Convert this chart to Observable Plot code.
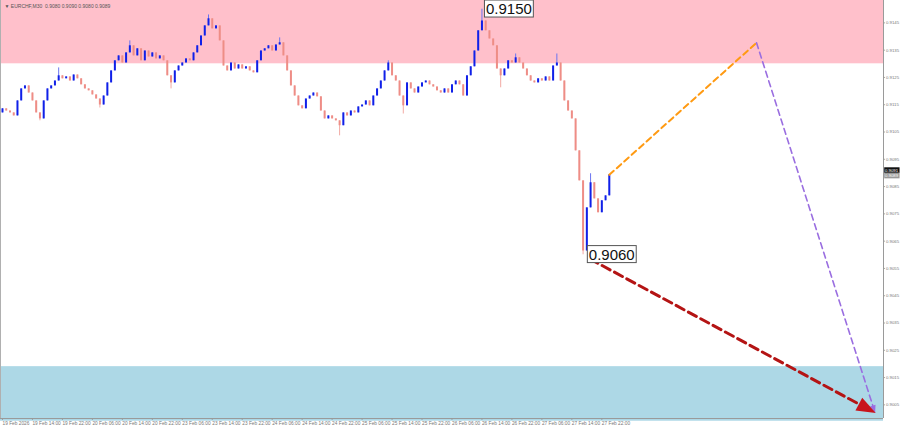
<!DOCTYPE html>
<html><head><meta charset="utf-8">
<script src="https://cdn.jsdelivr.net/npm/d3@7"></script>
<script src="https://cdn.jsdelivr.net/npm/@observablehq/plot@0.6"></script>
<style>html,body{margin:0;padding:0;background:#fff;}#chart{width:900px;height:428px;overflow:hidden;}</style>
</head><body><div id="chart"></div>
<script>
// ---------- data ----------
const symbolLabel = "\u25BC EURCHF,M30  0.9080 0.9090 0.9080 0.9089";
const firstOpen = 0.91120;
const closes = [
 0.91135,0.91127,0.91120,0.91109,0.91164,0.91208,0.91219,0.91193,0.91164,0.91120,
 0.91098,0.91164,0.91208,0.91219,0.91237,0.91256,0.91245,0.91252,0.91237,0.91259,
 0.91245,0.91223,0.91208,0.91201,0.91186,0.91171,0.91149,0.91182,0.91230,0.91274,
 0.91311,0.91329,0.91303,0.91340,0.91366,0.91329,0.91355,0.91311,0.91347,0.91325,
 0.91340,0.91318,0.91329,0.91311,0.91256,0.91230,0.91274,0.91292,0.91303,0.91318,
 0.91311,0.91340,0.91366,0.91402,0.91439,0.91465,0.91428,0.91439,0.91384,0.91292,
 0.91274,0.91303,0.91281,0.91296,0.91281,0.91289,0.91274,0.91267,0.91311,0.91347,
 0.91355,0.91366,0.91347,0.91369,0.91377,0.91329,0.91274,0.91219,0.91182,0.91146,
 0.91135,0.91171,0.91182,0.91193,0.91179,0.91127,0.91098,0.91109,0.91098,0.91091,
 0.91073,0.91120,0.91109,0.91127,0.91120,0.91142,0.91149,0.91164,0.91146,0.91182,
 0.91208,0.91237,0.91274,0.91303,0.91256,0.91237,0.91182,0.91146,0.91230,0.91208,
 0.91193,0.91215,0.91230,0.91237,0.91223,0.91215,0.91201,0.91193,0.91208,0.91193,
 0.91223,0.91237,0.91223,0.91182,0.91256,0.91289,0.91347,0.91421,0.91457,0.91421,
 0.91391,0.91366,0.91281,0.91256,0.91281,0.91311,0.91303,0.91322,0.91303,0.91281,
 0.91256,0.91237,0.91230,0.91245,0.91237,0.91252,0.91237,0.91292,0.91303,0.91237,
 0.91164,0.91127,0.91098,0.90981,0.90871,0.90614,0.90772,0.90864,0.90805,0.90754,
 0.90798,0.90816,0.90893
];
const highWicks = [[15,0.91285],[34,0.91384],[55,0.91479],[74,0.91395],[103,0.91311],[128,0.91500],[137,0.91336],[148,0.91336],[157,0.90897]];
const lowWicks  = [[10,0.91091],[26,0.91138],[45,0.91208],[90,0.91036],[107,0.91116],[133,0.91212],[155,0.90600]];
const timeTickIndex = [0,8,16,24,32,40,48,56,64,72,80,88,96,104,112,120,128,136,144,152,160];
const timeLabels = ["19 Feb 2026","19 Feb 14:00","19 Feb 22:00","20 Feb 06:00","20 Feb 14:00","20 Feb 22:00",
 "23 Feb 06:00","23 Feb 14:00","23 Feb 22:00","24 Feb 06:00","24 Feb 14:00","24 Feb 22:00",
 "25 Feb 06:00","25 Feb 14:00","25 Feb 22:00","26 Feb 06:00","26 Feb 14:00","26 Feb 22:00",
 "27 Feb 06:00","27 Feb 14:00","27 Feb 22:00"];
const priceTicks = [0.9145,0.9135,0.9125,0.9115,0.9105,0.9095,0.9085,0.9075,0.9065,0.9055,0.9045,0.9035,0.9025,0.9015,0.9005];
const resistanceZone = [0.9130, 0.91540];
const supportZone = [0.8999, 0.9019];
const peakLabel = {i:128, p:0.9150, text:"0.9150"};
const troughLabel = {i:156, p:0.9060, text:"0.9060"};
const orangePath = [{i:162, p:0.90893},{i:201.3, p:0.91377}];
const purplePath = [{i:201.3, p:0.91377},{i:232.6, p:0.90036}];
const redPath = [{i:156.8, p:0.90585},{i:230.5, p:0.90039}];
const bidLabel = {p:0.9091, text:"0.9091"};
const askLabel = {p:0.9089, text:"0.9089"};
const xDomain = [-0.53, 235.2];
const yDomain = [0.9000, 0.91532];

// ---------- build ----------
const hi = new Map(highWicks), lo = new Map(lowWicks);
const candles = closes.map((c, i) => {
  const o = i === 0 ? firstOpen : closes[i - 1];
  return {i, open: o, close: c, high: hi.get(i) ?? Math.max(o, c), low: lo.get(i) ?? Math.min(o, c), up: c >= o};
});
const xTicks = timeTickIndex.map((x, k) => ({x, label: timeLabels[k]}));
const UP = "#1020e8", DOWN = "#ee8d86";

// narrow arrowhead symbol pointing "up" (rotated afterwards)
const arrowHead = {
  draw(ctx, size) {
    const r = Math.sqrt(size / Math.PI);
    ctx.moveTo(0, -1.4 * r);
    ctx.lineTo(0.9 * r, 1.0 * r);
    ctx.lineTo(-0.9 * r, 1.0 * r);
    ctx.closePath();
  }
};

const chart = Plot.plot({
  width: 900, height: 428,
  marginLeft: 0, marginRight: 17, marginTop: 0, marginBottom: 10,
  x: {domain: xDomain, axis: null},
  y: {domain: yDomain, axis: null},
  style: {background: "#fff", fontFamily: "'Liberation Sans', Arial, sans-serif"},
  marks: [
    Plot.rect([resistanceZone], {x1: xDomain[0], x2: xDomain[1], y1: d => d[0], y2: d => d[1], fill: "#ffc0cb"}),
    Plot.rect([supportZone], {x1: xDomain[0], x2: xDomain[1], y1: d => d[0], y2: d => d[1], fill: "#add8e6"}),
    Plot.ruleX([xDomain[1]], {stroke: "#9a9a9a", strokeWidth: 1}),
    Plot.ruleX([xDomain[0]], {stroke: "#b0b0b0", strokeWidth: 1}),
    Plot.ruleY([yDomain[0]], {stroke: "#9a9a9a", strokeWidth: 1}),
    // price axis
    Plot.ruleY(priceTicks, {x1: xDomain[1], x2: xDomain[1] + 0.5, stroke: "#9a9a9a"}),
    Plot.text(priceTicks, {x: xDomain[1], y: d => d, text: d => d.toFixed(4), dx: 2.5, textAnchor: "start", fontSize: 4.3, fill: "#777"}),
    // time axis
    Plot.ruleX(xTicks, {x: "x", y1: yDomain[0], y2: yDomain[0] - 0.00007, stroke: "#9a9a9a"}),
    Plot.text(xTicks, {x: "x", y: yDomain[0], text: "label", dy: 5, textAnchor: "start", fontSize: 4.8, fill: "#777"}),
    Plot.text([symbolLabel], {frameAnchor: "top-left", dx: 4, dy: 4, textAnchor: "start", fontSize: 5, fill: "#555"}),
    // candles
    Plot.ruleX(candles, {x: "i", y1: "low", y2: "high", stroke: d => d.up ? "#6a74f0" : "#f2aaa4", strokeWidth: 1}),
    Plot.ruleX(candles, {x: "i", y1: "open", y2: "close", stroke: d => d.up ? UP : DOWN, strokeWidth: 2}),
    // projections
    Plot.line(orangePath, {x: "i", y: "p", stroke: "#ff9a12", strokeWidth: 2, strokeDasharray: "6,4"}),
    Plot.line(purplePath, {x: "i", y: "p", stroke: "#9a6ee0", strokeWidth: 1.6, strokeDasharray: "6,4"}),
    Plot.dot([purplePath[1]], {x: "i", y: "p", symbol: arrowHead, r: 3.2, fill: "#9a6ee0", stroke: "none", className: "headP"}),
    Plot.line(redPath, {x: "i", y: "p", stroke: "#b41414", strokeWidth: 3, strokeDasharray: "9,5"}),
    Plot.dot([redPath[1]], {x: "i", y: "p", symbol: arrowHead, r: 8, fill: "#c8141c", stroke: "none", className: "headR"}),
    // labels
    Plot.text([peakLabel], {x: "i", y: "p", text: "text", dx: 4, textAnchor: "start", fontSize: 15, fill: "#111", className: "boxw"}),
    Plot.text([troughLabel], {x: "i", y: "p", text: "text", dx: 2, textAnchor: "start", fontSize: 15, fill: "#111", className: "boxw"}),
    Plot.text([bidLabel], {x: xDomain[1], y: "p", text: "text", dx: 1.5, textAnchor: "start", fontSize: 4.3, fill: "#fff", className: "boxk"}),
    Plot.text([askLabel], {x: xDomain[1], y: "p", text: "text", dx: 1.5, textAnchor: "start", fontSize: 4.3, fill: "#fff", className: "boxg"})
  ]
});
document.getElementById("chart").append(chart);

function boxify(cls, fill, stroke, px, py) {
  chart.querySelectorAll("g." + cls + " text").forEach(t => {
    const b = t.getBBox();
    const r = document.createElementNS("http://www.w3.org/2000/svg", "rect");
    r.setAttribute("x", b.x - px); r.setAttribute("y", b.y - py);
    r.setAttribute("width", b.width + 2 * px); r.setAttribute("height", b.height + 2 * py);
    r.setAttribute("fill", fill);
    if (stroke) { r.setAttribute("stroke", stroke); r.setAttribute("stroke-width", 1); } else r.setAttribute("stroke", "none");
    const tr = t.getAttribute("transform"); if (tr) r.setAttribute("transform", tr);
    t.parentNode.insertBefore(r, t);
  });
}
boxify("boxw", "#fff", "#555", 1.5, 0);
boxify("boxk", "#111", null, 0.8, 0.3);
boxify("boxg", "#9a9a9a", null, 0.8, 0.3);

// point the arrowheads along their lines
function aim(cls, deg) {
  chart.querySelectorAll("g." + cls + " path").forEach(p => {
    const tr = p.getAttribute("transform") || "";
    p.setAttribute("transform", tr + " rotate(" + deg + ")");
  });
}
aim("headR", 118);
aim("headP", 162);
</script></body></html>
